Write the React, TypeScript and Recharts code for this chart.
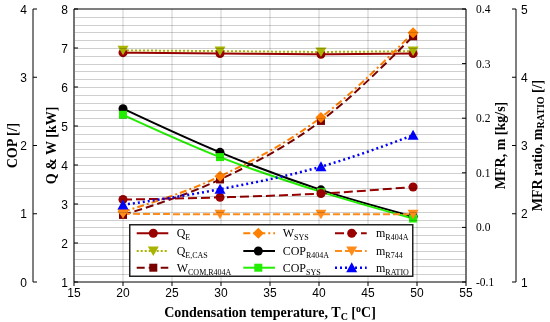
import React from "react";
import { LineChart, Line, XAxis, YAxis, CartesianGrid, Legend, ReferenceLine } from "recharts";

// condensation temperature [°C]
const tc = [20, 29.9, 40.2, 49.6];

// capacities & work [kW]
const qE = [6.88, 6.86, 6.84, 6.86];
const qECas = [6.94, 6.92, 6.9, 6.92];
const wCom = [2.72, 3.63, 5.13, 7.3];
const wSys = [2.8, 3.71, 5.22, 7.39];

// COP [/]
const copR404a = [2.54, 1.9, 1.35, 0.96];
const copSys = [2.45, 1.83, 1.32, 0.93];

// mass flow rates [kg/s] and ratio [/]
const mR404a = [0.051, 0.055, 0.062, 0.074];
const mR744 = [0.025, 0.024, 0.024, 0.024];
const mRatio = [2.13, 2.36, 2.69, 3.15];

const xTicks = [15, 20, 25, 30, 35, 40, 45, 50, 55];
const copTicks = [0, 1, 2, 3, 4];
const qwTicks = Array.from({ length: 36 }, (_, i) => Math.round((1 + i * 0.2) * 10) / 10);
const mfrTicks = [-0.1, 0, 0.1, 0.2, 0.3, 0.4];
const ratioTicks = [1, 2, 3, 4, 5];
const QW_MIN = 1;
const QW_MAX = 8;

const data = tc.map((t, i) => ({
  tc: t,
  qE: qE[i], qECas: qECas[i], wCom: wCom[i], wSys: wSys[i],
  copR404a: copR404a[i], copSys: copSys[i],
  mR404a: mR404a[i], mR744: mR744[i], mRatio: mRatio[i],
}));

const SANS = "'Liberation Sans', Arial, sans-serif";
const SERIF = "'Liberation Serif', 'Times New Roman', serif";
const GRID = "#cfcfcf";
const PLOT_W = 392;

type Shape = "circle" | "square" | "diamond" | "triDown" | "triUp";

function marker(shape: Shape, cx: number, cy: number, fill: string, key?: any) {
  switch (shape) {
    case "circle":
      return <circle key={key} cx={cx} cy={cy} r={4.5} fill={fill} />;
    case "square":
      return <rect key={key} x={cx - 4} y={cy - 4} width={8} height={8} fill={fill} />;
    case "diamond":
      return <polygon key={key} points={`${cx},${cy - 5.5} ${cx + 5.5},${cy} ${cx},${cy + 5.5} ${cx - 5.5},${cy}`} fill={fill} />;
    case "triDown":
      return <polygon key={key} points={`${cx - 5.5},${cy - 4.5} ${cx + 5.5},${cy - 4.5} ${cx},${cy + 5}`} fill={fill} />;
    default:
      return <polygon key={key} points={`${cx - 5.5},${cy + 4.5} ${cx + 5.5},${cy + 4.5} ${cx},${cy - 5.5}`} fill={fill} />;
  }
}

const dot = (shape: Shape, fill: string) => (p: any) => marker(shape, p.cx, p.cy, fill, `d${p.index}`);

type S = { key: string; axis: string; color: string; dash?: string; width: number; shape: Shape; label: string; sub: string };

// axis ids: l1 = Q & W (inner left), l2 = COP (outer left), r1 = MFR (inner right), r2 = ratio (outer right)
const SERIES: S[] = [
  { key: "qE", axis: "l1", color: "#990000", width: 2, shape: "circle", label: "Q", sub: "E" },
  { key: "qECas", axis: "l1", color: "#A8B400", dash: "2 2", width: 2, shape: "triDown", label: "Q", sub: "E,CAS" },
  { key: "wCom", axis: "l1", color: "#7A0000", dash: "8 4", width: 2, shape: "square", label: "W", sub: "COM,R404A" },
  { key: "wSys", axis: "l1", color: "#FF8000", dash: "7 3 2 3", width: 2, shape: "diamond", label: "W", sub: "SYS" },
  { key: "copR404a", axis: "l2", color: "#000000", width: 2, shape: "circle", label: "COP", sub: "R404A" },
  { key: "copSys", axis: "l2", color: "#22EE00", width: 2, shape: "square", label: "COP", sub: "SYS" },
  { key: "mR404a", axis: "r1", color: "#990000", dash: "9 4", width: 2, shape: "circle", label: "m", sub: "R404A" },
  { key: "mR744", axis: "r1", color: "#FF8C1A", dash: "7 3", width: 2, shape: "triDown", label: "m", sub: "R744" },
  { key: "mRatio", axis: "r2", color: "#0000FF", dash: "2 3", width: 2.5, shape: "triUp", label: "m", sub: "RATIO" },
];

const isInt = (v: number) => Math.abs(v - Math.round(v)) < 1e-6;

// Q & W tick: minor ticks only draw the light horizontal grid line
// (multiply blend so the grid doesn't wash out the series drawn beneath the axis layer)
const QwTick = (props: any) => {
  const { x, y, payload } = props;
  const v = payload.value;
  const gy = Math.round(y) + 0.5;
  const grid = v > QW_MIN && v < QW_MAX
    ? <line x1={x + 1} x2={x + PLOT_W - 1} y1={gy} y2={gy} stroke={GRID} strokeWidth={1} style={{ mixBlendMode: "multiply" }} />
    : null;
  if (!isInt(v)) return <g>{grid}</g>;
  return (
    <g>
      {grid}
      <line x1={x} x2={x + 4} y1={y} y2={y} stroke="#000" />
      <text x={x - 6} y={y} dy={4.5} textAnchor="end" fontFamily={SANS} fontSize={12} fill="#000">{v}</text>
    </g>
  );
};

const CopTick = (props: any) => {
  const { x, y, payload } = props;
  return (
    <g>
      <line x1={x} x2={x + 4} y1={y} y2={y} stroke="#000" />
      <text x={x - 6} y={y} dy={4.5} textAnchor="end" fontFamily={SANS} fontSize={12} fill="#000">{payload.value}</text>
    </g>
  );
};

const MfrTick = (props: any) => {
  const { x, y, payload } = props;
  return (
    <g>
      <line x1={x} x2={x - 4} y1={y} y2={y} stroke="#000" />
      <text x={x + 10} y={y} dy={4} textAnchor="start" fontFamily={SERIF} fontSize={11.5} fill="#000">{payload.value.toFixed(1)}</text>
    </g>
  );
};

const RatioTick = (props: any) => {
  const { x, y, payload } = props;
  return (
    <g>
      <line x1={x} x2={x - 4} y1={y} y2={y} stroke="#000" />
      <text x={x + 5} y={y} dy={4.5} textAnchor="start" fontFamily={SANS} fontSize={12} fill="#000">{payload.value}</text>
    </g>
  );
};

const vTitle = (dx: number, parts: React.ReactNode) => (props: any) => {
  const vb = props.viewBox;
  const cx = vb.x + dx;
  const cy = vb.y + vb.height / 2;
  return (
    <text x={cx} y={cy} transform={`rotate(-90, ${cx}, ${cy})`} textAnchor="middle" dominantBaseline="central"
      fontFamily={SERIF} fontWeight="bold" fontSize={14} fill="#000">
      {parts}
    </text>
  );
};

const LegendBox = () => {
  const cols = [
    { l0: 7.7, l1: 39.3, m: 24.3, t: 47.7 },
    { l0: 114.3, l1: 146, m: 129.3, t: 153.7 },
    { l0: 206, l1: 237.7, m: 222.7, t: 247 },
  ];
  const rows = [8.3, 26, 42.7];
  return (
    <svg width={285} height={54} style={{ display: "block" }}>
      <rect x={0.75} y={0.75} width={283} height={51.5} fill="#fff" stroke="#222" strokeWidth={1.5} />
      {SERIES.map((s, i) => {
        const c = cols[Math.floor(i / 3)];
        const y = rows[i % 3] + 1;
        return (
          <g key={s.key}>
            <line x1={c.l0} x2={c.l1} y1={y} y2={y} stroke={s.color} strokeWidth={s.width} strokeDasharray={s.dash} />
            {marker(s.shape, c.m, y, s.color)}
            <text x={c.t} y={y + 4} fontFamily={SERIF} fontSize={12} fill="#000">
              {s.label}
              <tspan fontSize={8} dy={3}>{s.sub}</tspan>
            </text>
          </g>
        );
      })}
    </svg>
  );
};

export default function App() {
  return (
    <div style={{ position: "absolute", left: 0, top: 0, width: 550, height: 322, background: "#fff", isolation: "isolate" }}>
      <LineChart width={550} height={322} data={data} margin={{ top: 9, right: 0, bottom: 0, left: 0 }}>
        <CartesianGrid stroke={GRID} strokeWidth={1} horizontal={false} />
        <XAxis dataKey="tc" type="number" domain={[15, 55]} ticks={xTicks} interval={0}
          axisLine={{ stroke: "#000" }} tickLine={{ stroke: "#000" }} tickSize={4} height={40}
          tick={{ fill: "#000", fontSize: 12, fontFamily: SANS }}
          label={{
            content: (p: any) => {
              const vb = p.viewBox;
              return (
                <text x={vb.x + vb.width / 2} y={vb.y + 35} textAnchor="middle" fontFamily={SERIF} fontWeight="bold" fontSize={14} fill="#000">
                  Condensation temperature, T<tspan fontSize={10} dy={3}>C</tspan>
                  <tspan dy={-3}> [</tspan><tspan fontSize={10} dy={-5}>o</tspan><tspan dy={5}>C]</tspan>
                </text>
              );
            },
          }} />
        <YAxis yAxisId="l1" type="number" domain={[QW_MIN, QW_MAX]} ticks={qwTicks} interval={0} width={41}
          axisLine={{ stroke: "#000" }} tickLine={false} tickSize={0} tickMargin={0} tick={<QwTick />}
          allowDataOverflow
          label={{ content: vTitle(18, <>Q &amp; W [kW]</>) }} />
        <YAxis yAxisId="l2" type="number" domain={[0, 4]} ticks={copTicks} interval={0} width={33}
          axisLine={{ stroke: "#000" }} tickLine={false} tickSize={0} tickMargin={0} tick={<CopTick />}
          allowDataOverflow
          label={{ content: vTitle(12, <>COP [/]</>) }} />
        <YAxis yAxisId="r1" orientation="right" type="number" domain={[-0.1, 0.4]} ticks={mfrTicks} interval={0} width={50}
          axisLine={{ stroke: "#000" }} tickLine={false} tickSize={0} tickMargin={0} tick={<MfrTick />}
          allowDataOverflow
          label={{ content: vTitle(34, <>MFR, m [kg/s]</>) }} />
        <YAxis yAxisId="r2" orientation="right" type="number" domain={[1, 5]} ticks={ratioTicks} interval={0} width={34}
          axisLine={{ stroke: "#000" }} tickLine={false} tickSize={0} tickMargin={0} tick={<RatioTick />}
          allowDataOverflow
          label={{
            content: vTitle(21, <>MFR ratio, m<tspan fontSize={10} dy={3}>RATIO</tspan><tspan dy={-3}> [/]</tspan></>),
          }} />
        <ReferenceLine yAxisId="l1" y={QW_MAX} stroke="#000" strokeWidth={1.2} />
        {SERIES.map((s) => (
          <Line key={s.key} yAxisId={s.axis} type="monotone" dataKey={s.key} stroke={s.color} strokeWidth={s.width}
            strokeDasharray={s.dash} dot={dot(s.shape, s.color)} activeDot={false} isAnimationActive={false} />
        ))}
        <Legend layout="horizontal" verticalAlign="middle" align="center" content={() => <LegendBox />}
          wrapperStyle={{ position: "absolute", left: 129, top: 224, width: 285, height: 54 }} />
      </LineChart>
    </div>
  );
}
